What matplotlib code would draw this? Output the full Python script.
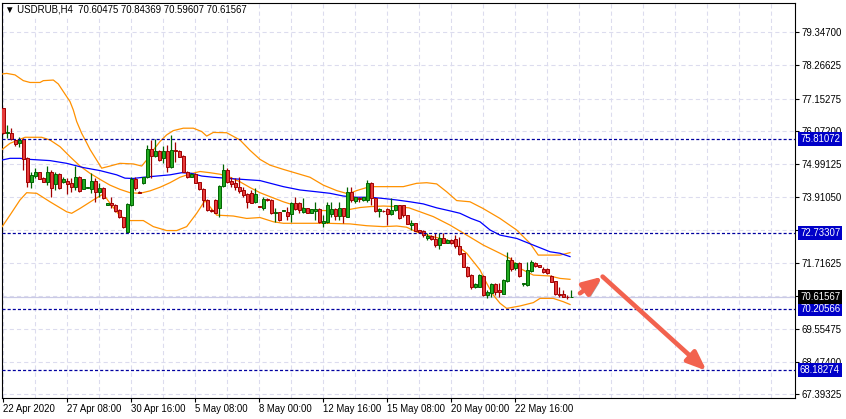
import numpy as np
import matplotlib
matplotlib.use('Agg')
import matplotlib.pyplot as plt
import matplotlib.patheffects as pe

# USDRUB H4 candles (bar 0 = 22 Apr 2020)
opens = [
    76.84, 76.01, 76.03, 75.79, 75.68, 75.81, 75.19, 74.41, 74.60, 74.72,
    74.54, 74.41, 74.75, 74.34, 74.66, 74.39, 74.45, 74.36, 74.23, 74.56,
    74.18, 74.22, 74.16, 74.44, 74.08, 74.19, 73.64, 73.70, 73.64, 73.48,
    73.24, 72.76, 73.64, 74.49, 74.07, 74.36, 74.56, 75.48, 75.27, 75.43,
    75.19, 75.43, 74.91, 75.46, 75.44, 75.26, 74.75, 74.58, 74.66, 74.39,
    74.17, 73.81, 73.47, 73.81, 73.53, 74.27, 74.80, 74.44, 74.36, 74.25,
    74.14, 74.01, 74.05, 73.73, 73.60, 73.53, 73.84, 73.81, 73.39, 73.40,
    73.45, 73.42, 73.35, 73.70, 73.70, 73.42, 73.53, 73.39, 73.46, 73.50,
    73.06, 73.09, 73.35, 73.50, 73.28, 73.53, 73.26, 74.08, 73.78, 73.86,
    73.81, 73.81, 74.36, 73.86, 73.46, 73.46, 73.51, 73.35, 73.48, 73.64,
    73.64, 73.31, 72.98, 73.04, 72.82, 72.80, 72.54, 72.62, 72.51, 72.32,
    72.54, 72.40, 72.49, 72.51, 72.29, 72.05, 71.61, 71.33, 70.93, 70.95,
    71.30, 70.67, 70.75, 71.04, 70.84, 70.71, 71.15, 71.83, 71.55, 71.74,
    71.05, 71.00, 71.48, 71.74, 71.66, 71.53, 71.52, 71.30, 71.13, 70.69,
    70.69, 70.61, 70.60475]
highs = [
    76.86, 76.29, 76.18, 75.81, 75.88, 75.85, 75.22, 74.75, 74.86, 74.75,
    74.56, 74.93, 74.80, 74.75, 74.69, 74.56, 74.53, 74.53, 74.93, 74.60,
    74.50, 74.25, 74.69, 74.53, 74.36, 74.25, 73.71, 73.92, 73.67, 73.50,
    73.26, 73.70, 74.58, 74.58, 74.11, 74.58, 75.63, 75.79, 75.81, 75.45,
    75.59, 75.63, 75.96, 75.74, 75.46, 75.28, 74.77, 74.69, 74.69, 74.41,
    74.19, 73.83, 73.50, 73.83, 74.30, 74.99, 74.86, 74.56, 74.53, 74.58,
    74.25, 74.05, 74.14, 74.19, 73.62, 73.92, 73.87, 73.84, 73.53, 73.42,
    73.48, 73.59, 73.75, 73.92, 73.75, 73.86, 73.55, 73.52, 73.75, 73.53,
    73.31, 73.75, 73.75, 73.53, 73.75, 73.54, 74.25, 74.25, 73.92, 73.92,
    73.92, 74.47, 74.41, 73.87, 73.53, 73.48, 73.53, 73.86, 73.66, 73.66,
    73.66, 73.33, 73.15, 73.06, 72.83, 72.82, 72.71, 72.64, 72.71, 72.71,
    72.71, 72.51, 72.51, 72.65, 72.60, 72.07, 71.63, 71.35, 71.06, 71.35,
    71.32, 70.84, 71.06, 71.06, 71.06, 71.19, 72.08, 71.94, 71.77, 71.77,
    71.06, 71.77, 71.83, 71.76, 71.67, 71.61, 71.55, 71.33, 71.15, 70.93,
    70.84, 70.67, 70.84369]
lows = [
    76.00, 75.85, 75.79, 75.60, 75.55, 74.80, 74.25, 74.19, 74.53, 74.49,
    74.40, 74.30, 73.92, 74.14, 74.16, 74.36, 74.00, 74.08, 74.14, 74.08,
    74.17, 74.21, 74.05, 73.75, 73.92, 73.83, 73.63, 73.53, 73.42, 73.22,
    72.87, 72.73, 73.62, 74.14, 74.03, 74.34, 74.53, 74.53, 75.24, 75.10,
    75.02, 74.75, 74.86, 75.08, 75.22, 74.73, 74.53, 74.56, 74.36, 74.14,
    73.59, 73.46, 73.42, 73.37, 73.24, 74.25, 74.36, 74.23, 74.14, 74.03,
    73.92, 73.56, 73.70, 73.70, 73.57, 73.48, 73.78, 73.35, 73.09, 73.13,
    73.44, 73.15, 73.09, 73.48, 73.37, 73.37, 73.37, 73.37, 73.15, 73.04,
    72.93, 73.04, 73.26, 73.15, 73.15, 73.04, 73.24, 73.75, 73.70, 73.75,
    73.79, 73.75, 73.64, 73.42, 73.24, 73.42, 73.00, 73.31, 73.46, 73.18,
    73.24, 73.01, 72.82, 72.78, 72.72, 72.60, 72.49, 72.49, 72.27, 72.18,
    72.38, 72.38, 72.36, 72.21, 71.99, 71.59, 71.28, 70.86, 70.89, 70.93,
    70.64, 70.56, 70.62, 70.67, 70.62, 70.69, 71.11, 71.48, 71.50, 71.28,
    70.97, 70.97, 71.44, 71.61, 71.60, 71.41, 71.37, 71.09, 70.67, 70.60,
    70.60, 70.54, 70.59607]
closes = [
    76.01, 76.04, 75.81, 75.65, 75.79, 75.15, 74.41, 74.64, 74.72, 74.50,
    74.41, 74.75, 74.19, 74.66, 74.19, 74.50, 74.34, 74.25, 74.56, 74.12,
    74.49, 74.23, 74.44, 74.07, 74.19, 73.86, 73.70, 73.66, 73.46, 73.24,
    72.91, 73.68, 74.49, 74.22, 74.05, 74.56, 75.48, 75.27, 75.43, 75.13,
    75.43, 74.89, 75.46, 75.43, 75.24, 74.75, 74.56, 74.67, 74.38, 74.16,
    73.81, 73.48, 73.45, 73.39, 74.27, 74.80, 74.41, 74.34, 74.23, 74.12,
    73.97, 73.75, 73.72, 74.01, 73.59, 73.84, 73.81, 73.37, 73.42, 73.15,
    73.46, 73.28, 73.72, 73.50, 73.48, 73.53, 73.39, 73.50, 73.50, 73.09,
    73.13, 73.64, 73.50, 73.28, 73.56, 73.28, 74.08, 73.81, 73.90, 73.85,
    73.90, 74.38, 73.86, 73.46, 73.51, 73.44, 73.35, 73.48, 73.64, 73.20,
    73.31, 73.02, 73.06, 72.80, 72.74, 72.65, 72.62, 72.51, 72.32, 72.54,
    72.40, 72.49, 72.38, 72.29, 72.03, 71.61, 71.30, 70.93, 71.04, 71.33,
    70.67, 70.78, 71.04, 70.78, 70.78, 71.17, 71.83, 71.52, 71.72, 71.30,
    71.06, 71.50, 71.77, 71.63, 71.61, 71.44, 71.39, 71.11, 70.69, 70.66,
    70.62, 70.60, 70.61567]

# indicator lines (bar index, price)
upper_x = [-0.2, 0.92, 3.0, 5.08, 6.75, 9.25, 10.08, 12.58, 13.83, 15.08, 16.75, 17.58,
           18.42, 19.67, 20.75, 21.75, 24.67, 26.75, 29.25, 32.58, 34.67, 35.92, 37.58,
           39.25, 40.92, 42.58, 45.08, 47.58, 49.67, 50.92, 52.58, 55.92, 59.25, 61.75,
           64.25, 66.75, 70.08, 73.42, 76.75, 80.08, 83.42, 86.33, 88.42, 90.92, 92.58,
           100.08, 103.42, 105.92, 108.42, 110.92, 113.42, 116.75, 120.0, 124.25, 128.4,
           131.75, 133.8, 139.25, 141.75]
upper_y = [77.97, 77.99, 77.94, 77.75, 77.69, 77.69, 77.75, 77.77, 77.64, 77.39, 77.06, 76.78,
           76.40, 76.01, 75.74, 75.48, 74.86, 74.93, 75.02, 75.00, 74.93, 75.13, 75.46,
           75.74, 75.96, 76.10, 76.18, 76.18, 76.07, 75.92, 76.04, 76.03, 75.79, 75.45,
           75.15, 74.96, 74.82, 74.69, 74.56, 74.30, 74.12, 74.01, 74.12, 74.22, 74.25,
           74.25, 74.36, 74.38, 74.34, 74.08, 73.79, 73.75, 73.53, 73.20, 72.82,
           72.38, 71.99, 71.99, 72.07]
mid_x = [-0.2, 1.75, 5.5, 9.67, 11.75, 14.25, 16.75, 19.25, 21.75, 24.25, 26.75, 29.25,
         31.75, 34.25, 36.75, 39.25, 41.75, 44.25, 46.75, 49.25, 51.75, 54.25, 56.75,
         59.25, 61.75, 64.25, 66.75, 70.08, 73.42, 75.92, 78.42, 83.42, 86.75, 89.25,
         91.75, 95.08, 98.42, 101.5, 104.25, 107.58, 111.75, 115.92, 120.08, 124.25,
         126.75, 129.25, 132.58, 136.75, 139.25, 141.75]
mid_y = [75.48, 75.68, 75.88, 75.88, 75.79, 75.57, 75.24, 74.93, 74.69, 74.49, 74.30, 74.16,
         74.05, 74.03, 74.11, 74.23, 74.38, 74.56, 74.67, 74.75, 74.71, 74.66, 74.56,
         74.41, 74.22, 74.05, 73.92, 73.75, 73.61, 73.50, 73.46, 73.46, 73.50, 73.56,
         73.59, 73.61, 73.59, 73.55, 73.42, 73.26, 72.98, 72.65, 72.32, 72.05,
         71.88, 71.55, 71.33, 71.30, 71.22, 71.19]
low_x = [-0.2, 1.75, 4.25, 5.92, 8.42, 11.75, 15.92, 17.17, 19.25, 22.58, 25.08, 26.75,
         29.25, 31.75, 35.08, 37.58, 40.92, 43.42, 45.92, 48.42, 50.5, 53.42, 57.58,
         60.92, 64.25, 67.58, 70.08, 80.92, 86.75, 90.92, 95.08, 98.42, 100.92, 103.42,
         106.0, 108.0, 110.92, 113.42, 115.92, 119.25, 120.92, 122.58, 124.25, 125.92,
         129.25, 132.58, 134.25, 137.58, 140.08, 141.75]
low_y = [72.93, 73.31, 73.81, 74.05, 74.03, 73.75, 73.42, 73.37, 73.53, 73.81, 74.01, 73.70,
         73.28, 73.13, 73.13, 72.93, 72.80, 72.80, 72.93, 73.37, 73.79, 73.31, 73.28,
         73.20, 73.23, 73.09, 73.04, 73.04, 73.02, 72.96, 72.93, 72.95, 72.91, 72.75,
         72.65, 72.58, 72.49, 72.32, 72.05, 71.50, 71.06, 70.67, 70.40, 70.23,
         70.31, 70.42, 70.56, 70.56, 70.45, 70.36]
ma_x = [-0.2, 1.75, 4.25, 6.75, 11.75, 15.92, 20.08, 24.25, 28.42, 30.5, 32.58, 35.08,
        38.42, 41.75, 44.67, 47.17, 49.67, 52.58, 57.58, 64.25, 70.08, 74.25, 78.42,
        81.75, 85.08, 88.42, 91.75, 95.08, 98.42, 101.75, 105.08, 108.42, 111.75,
        114.25, 117.0, 119.25, 121.75, 124.25, 128.42, 132.58, 136.75, 139.25, 141.75]
ma_y = [75.13, 75.185, 75.185, 75.15, 75.11, 75.02, 74.88, 74.78, 74.64, 74.53, 74.52, 74.56,
        74.60, 74.64, 74.71, 74.69, 74.60, 74.56, 74.51, 74.45, 74.25, 74.14, 74.08,
        74.03, 73.94, 73.90, 73.90, 73.86, 73.81, 73.75, 73.68, 73.55, 73.45,
        73.37, 73.20, 73.09, 72.82, 72.65, 72.54, 72.32, 72.10, 72.05, 71.94]

levels = [75.81072, 72.73307, 70.20566, 68.18274]
last_price = 70.61567
yticks = [79.347, 78.26625, 77.15275, 76.072, 74.99125, 73.9105, 72.82975,
          71.71625, 70.6355, 69.55475, 68.474, 67.39325]
hidden_ticks = [72.82975, 70.6355]
xtick_bars = [0, 16, 32, 48, 64, 80, 96, 112, 128]
xtick_labels = ['22 Apr 2020', '27 Apr 08:00', '30 Apr 16:00', '5 May 08:00', '8 May 00:00',
                '12 May 16:00', '15 May 08:00', '20 May 00:00', '22 May 16:00']
# forecast arrows (bar index, price)
arrow_x = [144.25, 149.9, 175.9]
arrow_y = [70.73, 71.28, 68.17]

plt.rcParams['font.family'] = ['Liberation Sans', 'DejaVu Sans']
plt.rcParams['lines.scale_dashes'] = False
fs = 6.9

fig = plt.figure(figsize=(8.46, 4.19), dpi=100)
ax = fig.add_axes([2/846, 21/419, 793/846, 395/419])
ax.set_xlim(-0.25, 198)
ax.set_ylim(67.271, 80.314)

# grid
grid_c = '#DCDCEE'
for gx in range(0, 199, 8):
    ax.axvline(gx, color=grid_c, lw=0.8, dashes=(3, 2.2), zorder=1)
for gy in yticks:
    ax.axhline(gy, color=grid_c, lw=0.8, dashes=(3, 2.2), zorder=1)

ax.axhline(last_price, color='#CACAE6', lw=0.9, zorder=2)

# indicators
ax.plot(upper_x, upper_y, color='#FF9100', lw=0.9, zorder=3)
ax.plot(mid_x, mid_y, color='#FF9100', lw=0.9, zorder=3)
ax.plot(low_x, low_y, color='#FF9100', lw=0.9, zorder=3)
ax.plot(ma_x, ma_y, color='#0000FF', lw=0.9, zorder=3)

# candles
o = np.array(opens)
h = np.array(highs)
l = np.array(lows)
c = np.array(closes)
idx = np.arange(len(o))
up = c >= o
dn = ~up
lo = np.minimum(o, c)
hgt = np.maximum(np.abs(c - o), 0.015)

ax.vlines(idx[up], l[up], h[up], color='#006400', lw=0.9, zorder=4)
ax.bar(idx[up], hgt[up], bottom=lo[up], width=0.75, color='#22AA22',
       edgecolor='#006400', linewidth=0.7, zorder=5)
ax.vlines(idx[dn], l[dn], h[dn], color='#A00000', lw=0.9, zorder=4)
ax.bar(idx[dn], hgt[dn], bottom=lo[dn], width=0.75, color='#E63C3C',
       edgecolor='#A00000', linewidth=0.7, zorder=5)

# horizontal levels
for lv in levels:
    ax.axhline(lv, color='#0000A0', lw=0.9, dashes=(2.2, 1.5), zorder=6)

# arrows
shadow = [pe.SimplePatchShadow(offset=(1.5, -1.5), shadow_rgbFace='0.35', alpha=0.55), pe.Normal()]
for k in range(len(arrow_x) - 1):
    ax.annotate('', xy=(arrow_x[k + 1], arrow_y[k + 1]), xytext=(arrow_x[k], arrow_y[k]),
                arrowprops=dict(arrowstyle='-|>,head_length=0.95,head_width=0.38',
                                mutation_scale=12, color='#F2624E', lw=3.3,
                                shrinkA=0, shrinkB=0, path_effects=shadow),
                zorder=8)

# axes, ticks
for sp in ax.spines.values():
    sp.set_color('black')
    sp.set_linewidth(0.8)
ax.yaxis.tick_right()
ax.set_yticks(yticks)
ax.set_yticklabels(['' if t in hidden_ticks else '%.5f' % t for t in yticks])
ax.tick_params(axis='y', direction='out', length=3, width=0.8, pad=1.5, labelsize=fs)
ax.set_xticks(xtick_bars)
ax.set_xticklabels(xtick_labels)
ax.tick_params(axis='x', direction='out', length=3, width=0.8, pad=1.5, labelsize=fs)
for lab in ax.get_xticklabels():
    lab.set_horizontalalignment('left')

# price boxes on the right scale
trans = ax.get_yaxis_transform()
for lv in levels:
    ax.text(1.0063, lv, '%.5f' % lv, transform=trans, ha='left', va='center', color='white',
            fontsize=fs, clip_on=False, zorder=10,
            bbox=dict(boxstyle='square,pad=0.2', fc='#0000C8', ec='none'))
ax.text(1.0063, last_price, '%.5f' % last_price, transform=trans, ha='left', va='center',
        color='white', fontsize=fs, clip_on=False, zorder=10,
        bbox=dict(boxstyle='square,pad=0.2', fc='black', ec='none'))

fig.text(5/846, 1 - 10/419, '\u25bc USDRUB,H4  70.60475 70.84369 70.59607 70.61567',
         fontsize=fs, ha='left', va='center',
         bbox=dict(fc='white', ec='none', pad=1))

fig.savefig('out.png', dpi=100)
